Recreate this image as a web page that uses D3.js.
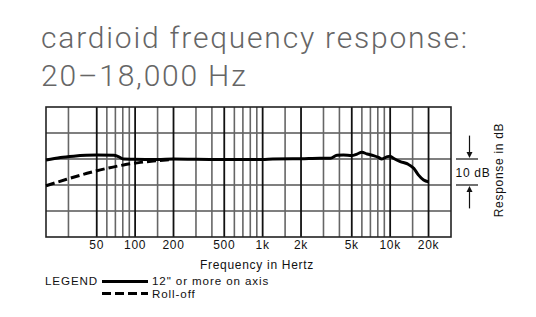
<!DOCTYPE html>
<html>
<head>
<meta charset="utf-8">
<script src="https://cdn.jsdelivr.net/npm/d3@7"></script>
<style>
  body { margin: 0; background: #fff; }
  svg { display: block; }
  .lbl { font-family: 'Liberation Sans', Arial, sans-serif; font-size: 12px; letter-spacing: 0.7px; fill: #111; }
  .leg { font-size: 11.6px; letter-spacing: 0.9px; }
  .title { font-family: Roboto, sans-serif; font-weight: 300; font-size: 30px; letter-spacing: 1.8px; fill: #666; }
</style>
</head>
<body>
<div id="chart"></div>
<script>
// response curves (Hz, dB)
var solidFreq = [20, 26, 33, 50, 68, 74, 81, 97, 150, 200, 300, 500, 1000, 1200, 2000, 2800, 3400, 3830, 4300, 5000, 5500, 6000, 6600, 7400, 8100, 8600, 9500, 10000, 10600, 12000, 13700, 15300, 16700, 18300, 20000]
var solidDb   = [-0.4, 0.6, 1.1, 1.5, 1.4, 0.9, 0, -0.1, -0.2, 0, -0.1, -0.2, -0.2, 0, 0.1, 0.3, 0.3, 1.4, 1.5, 1.3, 1.9, 2.6, 1.9, 1.3, 0.6, 0, 0.9, 1.1, 0.3, -1.0, -1.9, -3.6, -6.2, -8.1, -8.8]

var rollFreq = [20, 29, 42, 60, 81, 110, 149, 200]
var rollDb   = [-10.3, -7.8, -5.5, -3.6, -2.3, -1.3, -0.65, -0.1]

var majorFreqs  = [50, 100, 200, 500, 1000, 2000, 5000, 10000, 20000]
var majorLabels = ['50', '100', '200', '500', '1k', '2k', '5k', '10k', '20k']
var minorFreqs  = [30, 60, 70, 80, 90, 150, 300, 400, 600, 700, 800, 900, 1500, 3000, 4000, 6000, 7000, 8000, 9000, 15000]
var dbLines     = [-20, -10, 0, 10]

var titleLines  = ['cardioid frequency response:', '20–18,000 Hz']
var legendItems = ['12" or more on axis', 'Roll-off']

var svg = d3.select('#chart').append('svg').attr('width', 536).attr('height', 317)

var x = d3.scaleLog().domain([20, 30000]).range([46, 451])
var y = d3.scaleLinear().domain([-30, 20]).range([237, 107])

// title
svg.selectAll('text.title').data(titleLines).join('text')
  .attr('class', 'title')
  .attr('x', 41)
  .attr('y', (d, i) => 48 + i*38)
  .text(d => d)

// grid
var grid = svg.append('g')
grid.selectAll('line.h').data(dbLines).join('line')
  .attr('x1', x(20)).attr('x2', x(30000))
  .attr('y1', d => y(d)).attr('y2', d => y(d))
  .attr('stroke', '#555').attr('stroke-width', 1.6)

grid.selectAll('line.minor').data(minorFreqs).join('line')
  .attr('x1', d => x(d)).attr('x2', d => x(d))
  .attr('y1', y(20)).attr('y2', y(-30))
  .attr('stroke', '#666').attr('stroke-width', 1.6)

grid.selectAll('line.major').data(majorFreqs).join('line')
  .attr('x1', d => x(d)).attr('x2', d => x(d))
  .attr('y1', y(20)).attr('y2', y(-30))
  .attr('stroke', '#111').attr('stroke-width', 1.8)

grid.append('rect')
  .attr('x', x(20)).attr('y', y(20))
  .attr('width', x(30000) - x(20)).attr('height', y(-30) - y(20))
  .attr('fill', 'none').attr('stroke', '#222').attr('stroke-width', 1.6)

// tick labels
svg.selectAll('text.tick').data(majorFreqs).join('text')
  .attr('class', 'lbl')
  .attr('x', d => x(d)).attr('y', 249)
  .attr('text-anchor', 'middle')
  .text((d, i) => majorLabels[i])

svg.append('text').attr('class', 'lbl')
  .attr('x', 257).attr('y', 269)
  .attr('text-anchor', 'middle')
  .text('Frequency in Hertz')

svg.append('text').attr('class', 'lbl')
  .attr('transform', 'translate(503,170) rotate(-90)')
  .attr('text-anchor', 'middle')
  .text('Response in dB')

// curves
var line = d3.line()
  .x(d => x(d[0])).y(d => y(d[1]))
  .curve(d3.curveMonotoneX)

svg.append('path')
  .datum(d3.zip(rollFreq, rollDb))
  .attr('d', line)
  .attr('fill', 'none').attr('stroke', '#000').attr('stroke-width', 3)
  .attr('stroke-dasharray', '9 4')

svg.append('path')
  .datum(d3.zip(solidFreq, solidDb))
  .attr('d', line)
  .attr('fill', 'none').attr('stroke', '#000').attr('stroke-width', 3)
  .attr('stroke-linejoin', 'round')

// 10 dB scale marker
var mk = svg.append('g').attr('stroke', '#111').attr('stroke-width', 1.2)
mk.selectAll('line.tk').data([0, -10]).join('line')
  .attr('x1', 456).attr('x2', 478)
  .attr('y1', d => y(d)).attr('y2', d => y(d))
mk.append('line').attr('x1', 469.5).attr('x2', 469.5).attr('y1', y(9)).attr('y2', y(0) - 6)
mk.append('line').attr('x1', 469.5).attr('x2', 469.5).attr('y1', y(-19)).attr('y2', y(-10) + 6)
mk.append('path').attr('stroke', 'none').attr('fill', '#111')
  .attr('d', `M466.5,${y(0) - 7}L472.5,${y(0) - 7}L469.5,${y(0) - 1}Z`)
mk.append('path').attr('stroke', 'none').attr('fill', '#111')
  .attr('d', `M466.5,${y(-10) + 7}L472.5,${y(-10) + 7}L469.5,${y(-10) + 1}Z`)

svg.append('text').attr('class', 'lbl')
  .attr('x', 473).attr('y', (y(0) + y(-10))/2 + 4.5)
  .attr('text-anchor', 'middle')
  .text('10 dB')

// legend
svg.append('text').attr('class', 'lbl leg')
  .attr('x', 45).attr('y', 285)
  .text('LEGEND')

var leg = svg.selectAll('g.leg').data(legendItems).join('g')
  .attr('transform', (d, i) => `translate(0,${281.5 + i*12})`)
leg.append('line')
  .attr('x1', 102).attr('x2', 148)
  .attr('stroke', '#000').attr('stroke-width', 3)
  .attr('stroke-dasharray', (d, i) => i ? '9 4' : null)
leg.append('text').attr('class', 'lbl leg')
  .attr('x', 152).attr('y', (d, i) => 3.5 + i)
  .text(d => d)
</script>
</body>
</html>
